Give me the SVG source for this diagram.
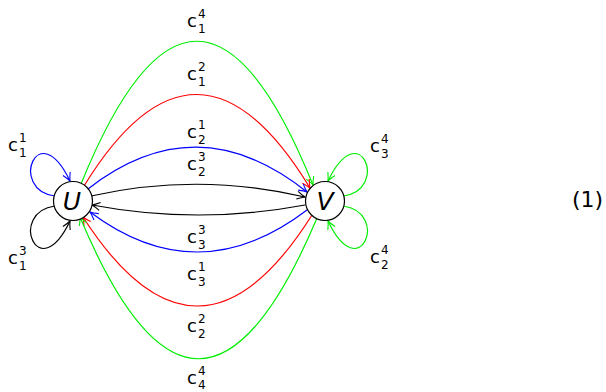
<svg xmlns="http://www.w3.org/2000/svg" width="606" height="392" viewBox="0 0 606 392">
<style>
.e{fill:none;stroke-width:1.2}
.k{stroke:#000}.r{stroke:#ff0000}.b{stroke:#0000ff}.g{stroke:#00ee00}
.n{fill:#fff;stroke:#000;stroke-width:1.2}
.nl{font-family:"DejaVu Sans",sans-serif;font-style:italic;font-size:25px;text-anchor:middle;fill:#000}
.c{font-family:"DejaVu Sans",sans-serif;font-size:18px;fill:#000}
.s{font-size:12px}
.eq{font-family:"DejaVu Sans",sans-serif;font-size:22px;fill:#000}
</style>
<defs>
<marker id="ak" markerUnits="userSpaceOnUse" markerWidth="12" markerHeight="12" refX="0" refY="0" viewBox="-10 -6 12 12" orient="auto"><path d="M-8,-4 Q-3,-1 0,0 Q-3,1 -8,4" fill="none" stroke="#000" stroke-width="1.1"/></marker>
<marker id="ar" markerUnits="userSpaceOnUse" markerWidth="12" markerHeight="12" refX="0" refY="0" viewBox="-10 -6 12 12" orient="auto"><path d="M-8,-4 Q-3,-1 0,0 Q-3,1 -8,4" fill="none" stroke="#ff0000" stroke-width="1.1"/></marker>
<marker id="ab" markerUnits="userSpaceOnUse" markerWidth="12" markerHeight="12" refX="0" refY="0" viewBox="-10 -6 12 12" orient="auto"><path d="M-8,-4 Q-3,-1 0,0 Q-3,1 -8,4" fill="none" stroke="#0000ff" stroke-width="1.1"/></marker>
<marker id="ag" markerUnits="userSpaceOnUse" markerWidth="12" markerHeight="12" refX="0" refY="0" viewBox="-10 -6 12 12" orient="auto"><path d="M-8,-4 Q-3,-1 0,0 Q-3,1 -8,4" fill="none" stroke="#00ee00" stroke-width="1.1"/></marker>
</defs>
<g id="connectors">
<path class="e g" d="M81,184 Q197,-102 313,185" marker-end="url(#ag)"/>
<path class="e r" d="M84,186 Q197,2 310,188" marker-end="url(#ar)"/>
<path class="e b" d="M88,189 Q197,104 307,192" marker-end="url(#ab)"/>
<path class="e k" d="M91,196 Q198,172 305,197" marker-end="url(#ak)"/>
<path class="e k" d="M305,205 Q198,225 92,205" marker-end="url(#ak)"/>
<path class="e b" d="M307,210 Q198,293 90,212" marker-end="url(#ab)"/>
<path class="e r" d="M312,215 Q198,396 83,217" marker-end="url(#ar)"/>
<path class="e g" d="M317,218 Q198,500 80,217" marker-end="url(#ag)"/>
<path class="e b" d="M55,196 C8,190 38,114 70,181" marker-end="url(#ab)"/>
<path class="e k" d="M55,206 C8,212 38,288 70,221" marker-end="url(#ak)"/>
<path class="e g" d="M343,196 C390,190 360,114 328,181" marker-end="url(#ag)"/>
<path class="e g" d="M343,206 C390,212 360,288 328,221" marker-end="url(#ag)"/>
</g>
<g id="node-U"><circle class="n" cx="73" cy="201" r="19.5"/><text class="nl" x="72" y="210">U</text></g>
<g id="node-V"><circle class="n" cx="325" cy="201" r="19.5"/><text class="nl" x="325" y="210">V</text></g>
<g id="labels">
<text class="c" x="187" y="27">c<tspan class="s" x="198" y="18">4</tspan><tspan class="s" x="198" y="33">1</tspan></text>
<text class="c" x="187" y="80">c<tspan class="s" x="198" y="71">2</tspan><tspan class="s" x="198" y="86">1</tspan></text>
<text class="c" x="187" y="138">c<tspan class="s" x="198" y="129">1</tspan><tspan class="s" x="198" y="144">2</tspan></text>
<text class="c" x="187" y="170">c<tspan class="s" x="198" y="161">3</tspan><tspan class="s" x="198" y="176">2</tspan></text>
<text class="c" x="187" y="243">c<tspan class="s" x="198" y="234">3</tspan><tspan class="s" x="198" y="249">3</tspan></text>
<text class="c" x="187" y="280">c<tspan class="s" x="198" y="271">1</tspan><tspan class="s" x="198" y="286">3</tspan></text>
<text class="c" x="187" y="332">c<tspan class="s" x="198" y="323">2</tspan><tspan class="s" x="198" y="338">2</tspan></text>
<text class="c" x="187" y="384">c<tspan class="s" x="198" y="375">4</tspan><tspan class="s" x="198" y="389">4</tspan></text>
<text class="c" x="8" y="151">c<tspan class="s" x="19" y="142">1</tspan><tspan class="s" x="19" y="157">1</tspan></text>
<text class="c" x="8" y="264">c<tspan class="s" x="19" y="255">3</tspan><tspan class="s" x="19" y="270">1</tspan></text>
<text class="c" x="370" y="152">c<tspan class="s" x="381" y="143">4</tspan><tspan class="s" x="381" y="158">3</tspan></text>
<text class="c" x="370" y="263">c<tspan class="s" x="381" y="254">4</tspan><tspan class="s" x="381" y="269">2</tspan></text>
</g>
<text class="eq" x="572" y="207">(1)</text>
</svg>
